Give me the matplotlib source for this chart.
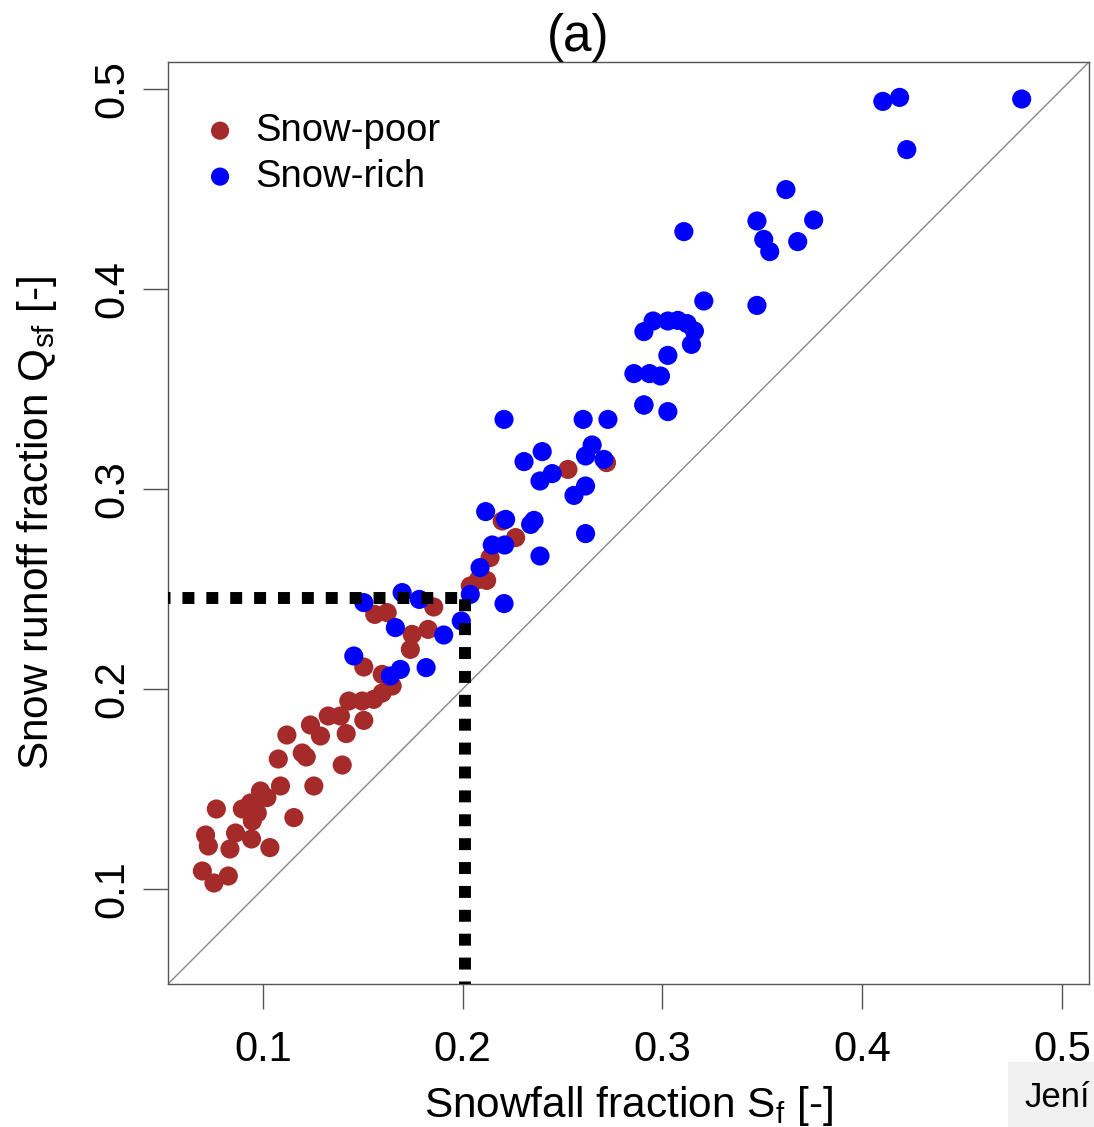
import matplotlib.pyplot as plt
from matplotlib.patches import Rectangle

plt.rcParams['font.family'] = ['Liberation Sans', 'DejaVu Sans']
plt.rcParams['mathtext.fontset'] = 'custom'
plt.rcParams['mathtext.rm'] = 'Liberation Sans'
plt.rcParams['mathtext.default'] = 'regular'

# snow-poor catchments (Sf, Qsf)
poor_sf = [0.0697, 0.0755, 0.0827, 0.0713, 0.0727, 0.0767, 0.0835, 0.0863, 0.0943, 0.1035,
           0.0897, 0.0938, 0.0947, 0.0972, 0.0988, 0.1020, 0.1088, 0.1155, 0.1255, 0.1077,
           0.1120, 0.1197, 0.1217, 0.1238, 0.1288, 0.1397, 0.1417, 0.1327, 0.1388, 0.1430,
           0.1505, 0.1497, 0.1555, 0.1597, 0.1647, 0.1597, 0.1505, 0.1738, 0.1747, 0.1827,
           0.1560, 0.1622, 0.1855, 0.2080, 0.2038, 0.2120, 0.2137, 0.2265, 0.2198, 0.2527,
           0.2720]
poor_qsf = [0.1090, 0.1030, 0.1065, 0.1270, 0.1215, 0.1400, 0.1200, 0.1280, 0.1250, 0.1207,
            0.1400, 0.1430, 0.1340, 0.1380, 0.1490, 0.1457, 0.1515, 0.1357, 0.1515, 0.1650,
            0.1770, 0.1680, 0.1660, 0.1820, 0.1765, 0.1620, 0.1777, 0.1865, 0.1865, 0.1940,
            0.1843, 0.1940, 0.1948, 0.1980, 0.2015, 0.2073, 0.2110, 0.2198, 0.2273, 0.2298,
            0.2373, 0.2382, 0.2410, 0.2548, 0.2515, 0.2543, 0.2657, 0.2757, 0.2840, 0.3098,
            0.3132]

# snow-rich catchments (Sf, Qsf)
rich_sf = [0.1455, 0.1505, 0.1697, 0.1783, 0.1663, 0.1905, 0.1638, 0.1688, 0.1817, 0.1993,
           0.2038, 0.2087, 0.2207, 0.2603, 0.2727, 0.2907, 0.2398, 0.2307, 0.2648, 0.2615,
           0.2707, 0.2448, 0.2387, 0.2615, 0.2557, 0.2615, 0.2115, 0.2215, 0.2340, 0.2357,
           0.2148, 0.2210, 0.2387, 0.2207, 0.3107, 0.3473, 0.3757, 0.3507, 0.3537, 0.3677,
           0.3207, 0.3473, 0.2907, 0.2953, 0.3027, 0.3077, 0.3123, 0.3160, 0.3145, 0.3027,
           0.2857, 0.2935, 0.2990, 0.2907, 0.3027, 0.4103, 0.4187, 0.4798, 0.4223, 0.3618]
rich_qsf = [0.2165, 0.2432, 0.2482, 0.2448, 0.2307, 0.2270, 0.2065, 0.2098, 0.2107, 0.2340,
            0.2473, 0.2607, 0.3348, 0.3348, 0.3348, 0.3420, 0.3187, 0.3137, 0.3220, 0.3165,
            0.3148, 0.3077, 0.3040, 0.3015, 0.2968, 0.2777, 0.2887, 0.2848, 0.2823, 0.2843,
            0.2720, 0.2720, 0.2665, 0.2427, 0.4287, 0.4340, 0.4345, 0.4248, 0.4187, 0.4237,
            0.3940, 0.3918, 0.3787, 0.3840, 0.3840, 0.3843, 0.3827, 0.3790, 0.3723, 0.3668,
            0.3577, 0.3577, 0.3565, 0.3420, 0.3387, 0.4938, 0.4958, 0.4950, 0.4697, 0.4497]

threshold_sf = 0.201
threshold_qsf = 0.2453
ticks = [0.1, 0.2, 0.3, 0.4, 0.5]

fig = plt.figure(figsize=(10.94, 11.27), dpi=100)
ax = fig.add_axes([168 / 1094, 1 - 984 / 1127, 921 / 1094, 922 / 1127])

lim = (0.0525, 0.5135)
ax.plot(lim, lim, color='#888888', linewidth=1.0, zorder=1)

ax.scatter(poor_sf, poor_qsf, s=190, color='#A52A2A', edgecolors='none', zorder=2, label='Snow-poor')
ax.scatter(rich_sf, rich_qsf, s=190, color='#0000FF', edgecolors='none', zorder=3, label='Snow-rich')

# threshold lines
ax.plot([0, threshold_sf], [threshold_qsf, threshold_qsf], color='black', linewidth=8.6,
        linestyle=(0, (1, 1)), dash_capstyle='butt', zorder=4)
ax.plot([threshold_sf, threshold_sf], [0, threshold_qsf], color='black', linewidth=8.6,
        linestyle=(0, (1, 1)), dash_capstyle='butt', zorder=4)

ax.set_xlim(lim)
ax.set_ylim(lim)
ax.set_xticks(ticks)
ax.set_yticks(ticks)
ax.set_xticklabels([str(t) for t in ticks], fontsize=30)
ax.set_yticklabels([str(t) for t in ticks], fontsize=30, rotation=90, va='center')
ax.tick_params(axis='both', length=18, width=1, color='#555555')
ax.tick_params(axis='x', pad=15)
ax.tick_params(axis='y', pad=8)
for sp in ax.spines.values():
    sp.set_color('#555555')
    sp.set_linewidth(1)

ax.set_xlabel('Snowfall fraction S$_f$ [-]', fontsize=30.5, labelpad=10)
ax.set_ylabel('Snow runoff fraction Q$_{sf}$ [-]', fontsize=30.5, labelpad=24)
fig.text(578 / 1094, 1 - 37 / 1127, '(a)', fontsize=37, ha='center', va='center')

ax.legend(loc='upper left', fontsize=27.5, frameon=False, markerscale=0.95,
          handlelength=1.26, handletextpad=0.3, borderpad=0, borderaxespad=0,
          labelspacing=0.26, bbox_to_anchor=(0.0304, 0.945))

# clipped overlay box at the bottom right corner
fig.patches.append(Rectangle((1008 / 1094, 0), 86 / 1094, 65 / 1127, transform=fig.transFigure,
                             facecolor='#F0F0F0', edgecolor='none', zorder=0))
fig.text(1024 / 1094, 1 - 1107 / 1127, 'Jení', fontsize=25, ha='left', va='baseline')

fig.savefig('out.png', dpi=100)
